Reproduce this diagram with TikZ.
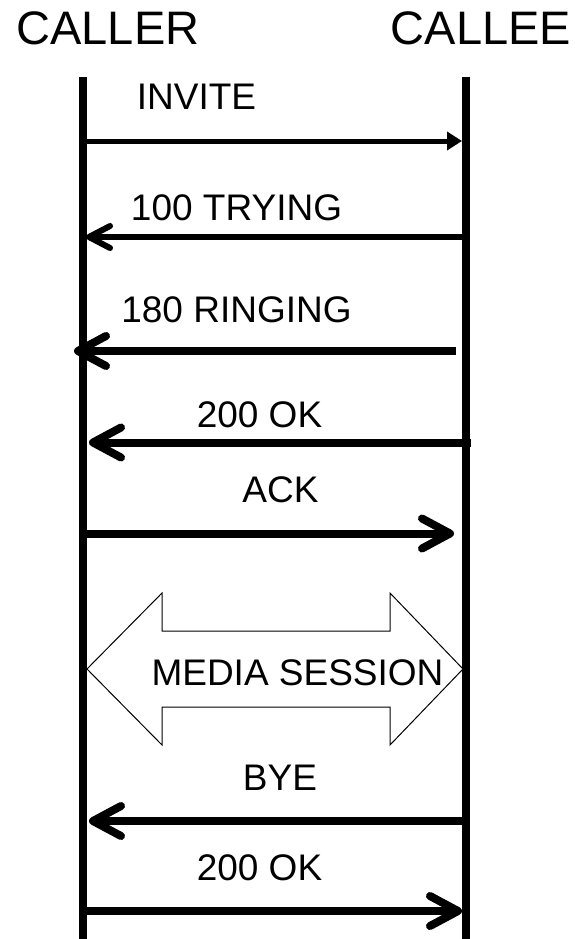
\documentclass[tikz,border=0pt]{standalone}
\usepackage{fontspec}
\setmainfont{Liberation Sans}
\usetikzlibrary{arrows.meta}
\begin{document}
\begin{tikzpicture}[x=1pt,y=-1pt,
  head/.style={inner sep=0pt,anchor=base,font=\fontsize{47}{50}\selectfont},
  lbl/.style={inner sep=0pt,anchor=base,font=\fontsize{37}{40}\selectfont},
  lifeline/.style={line width=8pt},
  msg/.style={line width=8pt,-{Straight Barb[length=28pt,width=30pt,round]}},
  thinmsg/.style={line width=6pt,-{Straight Barb[length=21pt,width=22pt,round]}},
  invmsg/.style={line width=5pt,-{Triangle[length=15pt,width=18pt]}},
  media/.style={line width=1pt,fill=white,line join=miter}]
\useasboundingbox (0,0) rectangle (575,939);
% headers
\node[head] (caller) at (108,45) {CALLER};
\node[head] (callee) at (481,45) {CALLEE};
% lifelines
\coordinate (lt) at (82.5,77);
\coordinate (lb) at (82.5,939);
\coordinate (rt) at (465.5,77);
\coordinate (rb) at (465.5,939);
\draw[lifeline] (lt) -- (lb);
\draw[lifeline] (rt) -- (rb);
% INVITE
\node[lbl] (tinv) at (196.5,110) {INVITE};
\coordinate (inv1) at (86,141);
\coordinate (inv2) at (462,141);
\draw[invmsg] (inv1) -- (inv2);
% 100 TRYING
\node[lbl] (ttry) at (236.5,220.5) {100 TRYING};
\coordinate (try1) at (462,237);
\coordinate (try2) at (86,237);
\draw[thinmsg] (try1) -- (try2);
% 180 RINGING
\node[lbl] (tring) at (236.5,322) {180 RINGING};
\coordinate (ring1) at (456,351);
\coordinate (ring2) at (74,351);
\draw[msg] (ring1) -- (ring2);
% 200 OK
\node[lbl] (tok1) at (259.5,427) {200 OK};
\coordinate (ok1a) at (471,442.5);
\coordinate (ok1b) at (89,442.5);
\draw[msg] (ok1a) -- (ok1b);
% ACK
\node[lbl] (tack) at (280.5,502) {ACK};
\coordinate (ack1) at (87,533.5);
\coordinate (ack2) at (454,533.5);
\draw[msg] (ack1) -- (ack2);
% MEDIA SESSION
\draw[media] (87,669) -- (162,593) -- (162,631) -- (390,631) -- (390,593)
  -- (463,669) -- (390,745) -- (390,707) -- (162,707) -- (162,745) -- cycle;
\node[lbl] (tmedia) at (297.5,685) {MEDIA SESSION};
% BYE
\node[lbl] (tbye) at (280,790) {BYE};
\coordinate (bye1) at (463,821);
\coordinate (bye2) at (89,821);
\draw[msg] (bye1) -- (bye2);
% 200 OK
\node[lbl] (tok2) at (259.5,880) {200 OK};
\coordinate (ok2a) at (87,911);
\coordinate (ok2b) at (462,911);
\draw[msg] (ok2a) -- (ok2b);
\end{tikzpicture}
\end{document}
